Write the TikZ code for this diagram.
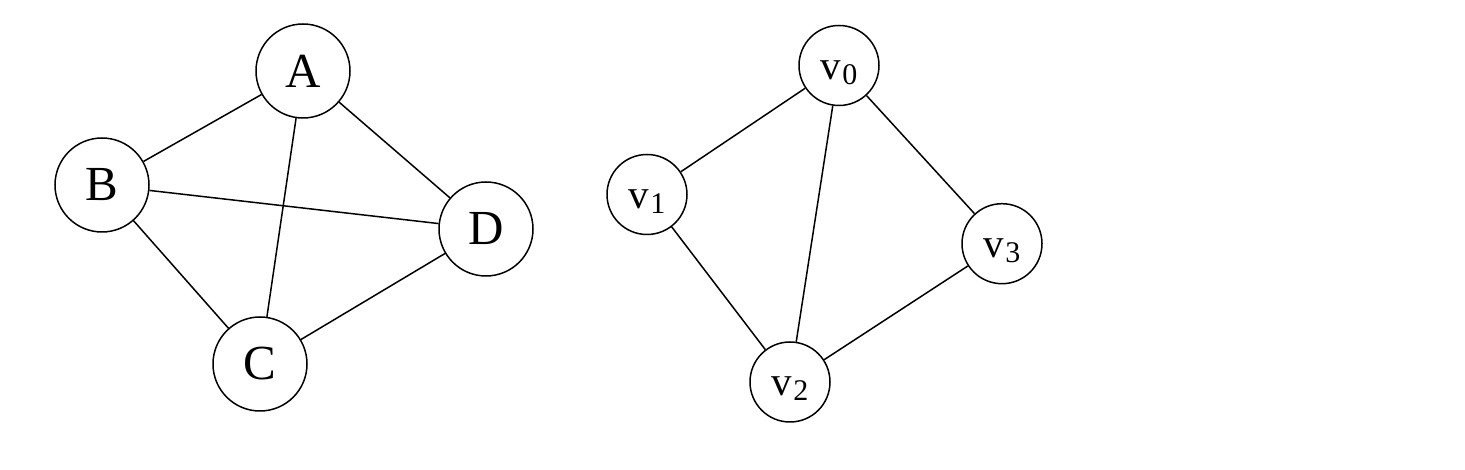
\documentclass[tikz,border=0pt]{standalone}
\usepackage{fontspec}
\setmainfont{Liberation Serif}
\newcommand\vsub[1]{v\kern1pt\raisebox{-5pt}{\fontsize{30}{36}\selectfont #1}}
\begin{document}
\begin{tikzpicture}[x=1pt,y=1pt,
  bignode/.style={draw,circle,line width=1.5pt,inner sep=0pt,minimum size=94pt,font=\fontsize{49}{58}\selectfont},
  smallnode/.style={draw,circle,line width=1.5pt,inner sep=0pt,minimum size=80pt,text height=30pt,text depth=2pt,font=\fontsize{41}{50}\selectfont},
  edge/.style={line width=1.5pt}]
\useasboundingbox (0,0) rectangle (1465,470);
\node[bignode] (A) at (303,399) {A};
\node[bignode] (B) at (102,285) {B};
\node[bignode] (D) at (486,241) {D};
\node[bignode] (C) at (260,106) {C};
\draw[edge] (A) -- (B);
\draw[edge] (A) -- (C);
\draw[edge] (A) -- (D);
\draw[edge] (B) -- (D);
\draw[edge] (B) -- (C);
\draw[edge] (C) -- (D);
\node[smallnode] (v0) at (839,404.5) {\vsub{0}};
\node[smallnode] (v1) at (647,275.5) {\vsub{1}};
\node[smallnode] (v3) at (1002,226.3) {\vsub{3}};
\node[smallnode] (v2) at (790,88) {\vsub{2}};
\draw[edge] (v0) -- (v1);
\draw[edge] (v0) -- (v2);
\draw[edge] (v0) -- (v3);
\draw[edge] (v1) -- (v2);
\draw[edge] (v2) -- (v3);
\end{tikzpicture}
\end{document}
